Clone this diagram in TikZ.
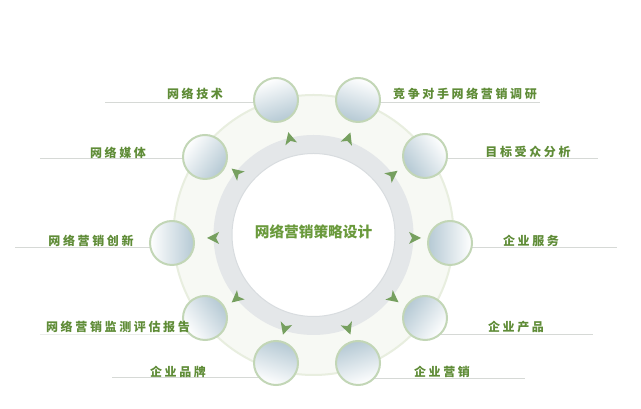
\documentclass[tikz,border=0pt]{standalone}
\usepackage{fontspec}
\newfontfamily\cjk[LetterSpace=22]{Noto Sans CJK SC}
\newfontfamily\cjkmid{Noto Sans CJK SC}
\definecolor{taggreen}{HTML}{5F8C37}
\definecolor{midgreen}{HTML}{6A9A3C}
\definecolor{tipgreen}{HTML}{76A05F}
\definecolor{ringgray}{HTML}{E4E7E9}
\definecolor{ringedge}{HTML}{D8DCDF}
\definecolor{palering}{HTML}{F7F9F4}
\definecolor{paleedge}{HTML}{E8EEDF}
\definecolor{ballrim}{HTML}{C2D6B6}
\definecolor{ballblue}{HTML}{B5C9D4}
\definecolor{leadgray}{HTML}{D6D9D6}

\begin{document}
\begin{tikzpicture}[x=0.75pt,y=0.75pt,
  ball/.style={circle,draw=ballrim,line width=1.5pt,minimum size=33pt,top color=ballblue,bottom color=white,shading angle=#1},
  tag/.style={font=\cjk\bfseries\fontsize{9}{9}\selectfont,text=taggreen},
  lead/.style={draw=leadgray,line width=0.75pt},
  tip/.style={fill=tipgreen}]
\tikzstyle{every node}+=[inner sep=0pt]
\useasboundingbox (0,0) rectangle (641,409);
\fill [white] (0,0) rectangle (641,409);
% rings
\coordinate (o) at (313.5,174);
\fill [palering] (o) circle (140);
\draw [paleedge,line width=1.5pt] (o) circle (140);
\fill [ringgray] (o) circle (100);
\fill [white] (o) circle (81.5);
\draw [ringedge,line width=0.75pt] (o) circle (81.5);
\node [font=\cjkmid\bfseries\fontsize{11}{11}\selectfont,text=midgreen] (mid) at (313.5,177) {网络营销策略设计};
% arrow tips
\fill [tip,shift={(290,270)},rotate=104] (7,0) -- (-5,6) -- (-2,0) -- (-5,-6) -- cycle;
\fill [tip,shift={(348,270)},rotate=70] (7,0) -- (-5,6) -- (-2,0) -- (-5,-6) -- cycle;
\fill [tip,shift={(392,234)},rotate=37] (7,0) -- (-5,6) -- (-2,0) -- (-5,-6) -- cycle;
\fill [tip,shift={(414,171)},rotate=0] (7,0) -- (-5,6) -- (-2,0) -- (-5,-6) -- cycle;
\fill [tip,shift={(393,111)},rotate=-38] (7,0) -- (-5,6) -- (-2,0) -- (-5,-6) -- cycle;
\fill [tip,shift={(348,81)},rotate=-70] (7,0) -- (-5,6) -- (-2,0) -- (-5,-6) -- cycle;
\fill [tip,shift={(285,81)},rotate=-107] (7,0) -- (-5,6) -- (-2,0) -- (-5,-6) -- cycle;
\fill [tip,shift={(237,111)},rotate=-140] (7,0) -- (-5,6) -- (-2,0) -- (-5,-6) -- cycle;
\fill [tip,shift={(214,171)},rotate=180] (7,0) -- (-5,6) -- (-2,0) -- (-5,-6) -- cycle;
\fill [tip,shift={(237,236)},rotate=141] (7,0) -- (-5,6) -- (-2,0) -- (-5,-6) -- cycle;
% ball places and lead line ends
\coordinate (pTech) at (276,309);
\coordinate (pRival) at (358,309);
\coordinate (pAud) at (425,253);
\coordinate (pServ) at (450,166);
\coordinate (pProd) at (425,91);
\coordinate (pSale) at (358,46);
\coordinate (pBrand) at (276,46);
\coordinate (pMonit) at (205,91);
\coordinate (pInnov) at (172,166);
\coordinate (pMedia) at (205,252);
\coordinate (eTech) at (105,306);
\coordinate (eMedia) at (40,250);
\coordinate (eInnov) at (15,161);
\coordinate (eMonit) at (40,74);
\coordinate (eBrand) at (112,31);
\coordinate (eRival) at (540,306);
\coordinate (eAud) at (598,250);
\coordinate (eServ) at (617,161);
\coordinate (eProd) at (593,74);
\coordinate (eSale) at (525,30);
% lead lines
\draw [lead] (eTech) -- (pTech |- eTech);
\draw [lead] (eMedia) -- (pMedia |- eMedia);
\draw [lead] (eInnov) -- (pInnov |- eInnov);
\draw [lead,draw=leadgray!50] (eMonit) -- (pMonit |- eMonit);
\draw [lead] (eBrand) -- (pBrand |- eBrand);
\draw [lead] (pRival |- eRival) -- (eRival);
\draw [lead] (pAud |- eAud) -- (eAud);
\draw [lead] (pServ |- eServ) -- (eServ);
\draw [lead] (pProd |- eProd) -- (eProd);
\draw [lead] (pSale |- eSale) -- (eSale);
% balls, blue side turned to the middle
\node [ball=198] (cTech) at (pTech) {};
\node [ball=162] (cRival) at (pRival) {};
\node [ball=126] (cAud) at (pAud) {};
\node [ball=90] (cServ) at (pServ) {};
\node [ball=54] (cProd) at (pProd) {};
\node [ball=18] (cSale) at (pSale) {};
\node [ball=-18] (cBrand) at (pBrand) {};
\node [ball=-54] (cMonit) at (pMonit) {};
\node [ball=-90] (cInnov) at (pInnov) {};
\node [ball=-126] (cMedia) at (pMedia) {};
% labels
\node [tag] (tTech) at (195,315) {网络技术};
\node [tag] (tMedia) at (118,256) {网络媒体};
\node [tag] (tInnov) at (91,168) {网络营销创新};
\node [tag] (tMonit) at (118,82) {网络营销监测评估报告};
\node [tag] (tBrand) at (178,37) {企业品牌};
\node [tag] (tRival) at (465,315) {竞争对手网络营销调研};
\node [tag] (tAud) at (528,257) {目标受众分析};
\node [tag] (tServ) at (531,168) {企业服务};
\node [tag] (tProd) at (516,82) {企业产品};
\node [tag] (tSale) at (442,37) {企业营销};
\end{tikzpicture}
\end{document}
